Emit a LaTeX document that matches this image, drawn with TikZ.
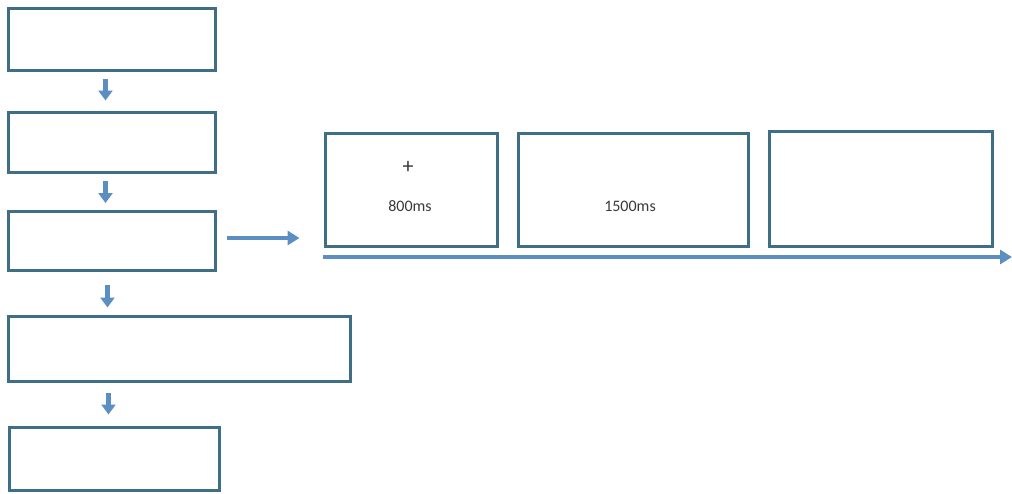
\documentclass[tikz,border=0pt]{standalone}
\usepackage{fontspec}
\setmainfont{Carlito}
\usetikzlibrary{arrows.meta}
\definecolor{boxline}{HTML}{3F6F86}
\definecolor{arrowblue}{HTML}{5B8FC2}
\definecolor{txt}{HTML}{3A3A3A}
\tikzset{
  stagebox/.style={draw=boxline, line width=3pt, fill=white, inner sep=0pt},
  downarr/.style={draw=arrowblue, line width=4.5pt, -{Triangle[width=14pt,length=10pt]}},
  sidearr/.style={draw=arrowblue, line width=4pt, -{Triangle[width=14pt,length=12pt]}},
  label/.style={text=txt, font=\fontsize{16}{18}\selectfont, inner sep=0pt}
}
\begin{document}
\begin{tikzpicture}[x=1pt,y=-1pt]
\useasboundingbox[fill=white] (0,0) rectangle (1012,493);
% left flow
\node[stagebox, minimum width=207pt, minimum height=62pt] (b1) at (111.5,39) {};
\node[stagebox, minimum width=207pt, minimum height=60pt] (b2) at (111.5,142) {};
\node[stagebox, minimum width=207pt, minimum height=59pt] (b3) at (111.5,241) {};
\node[stagebox, minimum width=342pt, minimum height=65pt] (b4) at (179,348.5) {};
\node[stagebox, minimum width=210pt, minimum height=63pt] (b5) at (114,458.5) {};
\draw[downarr] ([xshift=-6pt,yshift=-7pt]b1.south) -- ([xshift=-6pt,yshift=10pt]b2.north);
\draw[downarr] ([xshift=-6pt,yshift=-7pt]b2.south) -- ([xshift=-6pt,yshift=7pt]b3.north);
\draw[downarr] ([xshift=-4pt,yshift=-13pt]b3.south -| b2.south) -- ([xshift=-4pt,yshift=7pt]b4.north -| b2.south);
\draw[downarr] ([xshift=-3pt,yshift=-10pt]b4.south -| b2.south) -- ([xshift=-3pt,yshift=11pt]b5.north -| b2.south);
% trial sequence
\node[stagebox, minimum width=172pt, minimum height=113pt] (t1) at (411,189.5) {};
\node[stagebox, minimum width=230pt, minimum height=113pt] (t2) at (633,189.5) {};
\node[stagebox, minimum width=223pt, minimum height=115pt] (t3) at (880.5,188.5) {};
\node[label, font=\fontsize{22}{22}\selectfont] (plus) at (408,167) {+};
\node[label] (d1) at (410,206) {800ms};
\node[label] (d2) at (630,206) {1500ms};
\draw[sidearr] ([xshift=10pt,yshift=3pt]b3.east) -- ([xshift=-24pt]t1.west |- 0,238);
\coordinate (tl0) at (323,257);
\coordinate (tl1) at (1012,257);
\draw[sidearr] (tl0) -- (tl1);
\end{tikzpicture}
\end{document}
